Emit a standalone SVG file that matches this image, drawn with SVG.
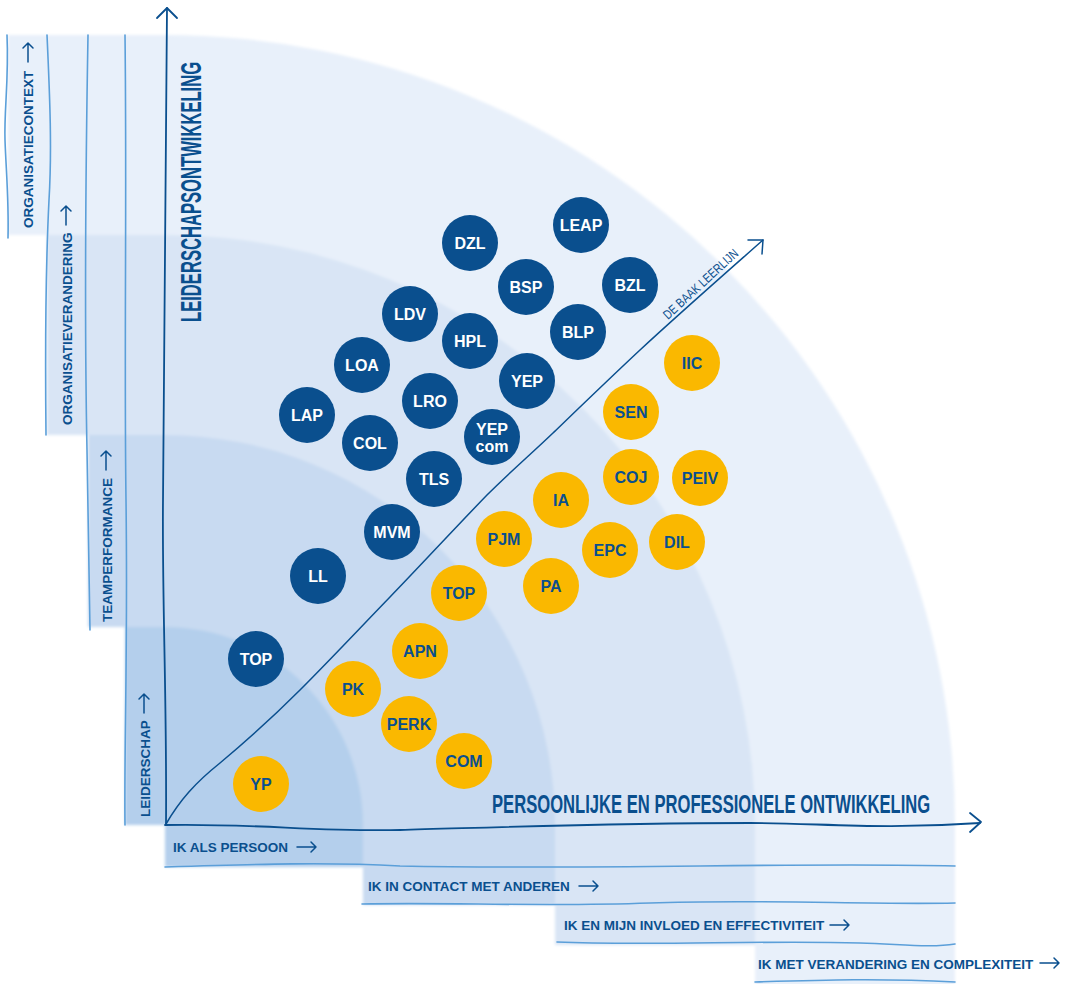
<svg xmlns="http://www.w3.org/2000/svg" width="1067" height="984" viewBox="0 0 1067 984">
<defs>
<style>
.r4{fill:#e8f0fa}.r3{fill:#d9e5f5}.r2{fill:#c8daf1}.r1{fill:#b4cfec}
.sl{fill:none;stroke:#5b9fd9;stroke-width:1.6;stroke-linecap:round}
.ax{fill:none;stroke:#0a4f8e;stroke-width:1.8;stroke-linecap:round;stroke-linejoin:round}
.dg{fill:none;stroke:#0a4f8e;stroke-width:1.5;stroke-linecap:round;stroke-linejoin:round}
.ar{fill:none;stroke:#0a4f8e;stroke-width:1.5;stroke-linecap:round;stroke-linejoin:round}
.st{font-family:"Liberation Sans",Arial,sans-serif;font-weight:bold;font-size:13.5px;fill:#0a4f8e}
.hw{font-family:"Liberation Sans",Arial,sans-serif;fill:#0a4f8e}
.nb{fill:#0a4f8e}.ng{fill:#fab800}
.tb{font-family:"Liberation Sans",Arial,sans-serif;font-weight:bold;font-size:16px;fill:#ffffff;text-anchor:middle}
.tg{font-family:"Liberation Sans",Arial,sans-serif;font-weight:bold;font-size:16px;fill:#0a4f8e;text-anchor:middle}
</style>
<filter id="soft" x="-5%" y="-5%" width="110%" height="110%"><feGaussianBlur stdDeviation="1.5"/></filter>
</defs>
<rect width="1067" height="984" fill="#ffffff"/>
<g id="rings" filter="url(#soft)">
<path class="r4" d="M8,35 H165 A790,790 0 0 1 955,825 V990 H755 V825 H165 V235 H8 Z"/>
<path class="r3" d="M47,235 H165 A590,590 0 0 1 755,825 V945 H555 V825 H165 V435 H47 Z"/>
<path class="r2" d="M88,435 H165 A390,390 0 0 1 555,825 V905 H363 V825 H165 V627 H88 Z"/>
<path class="r1" d="M125,627 H165 A198,198 0 0 1 363,825 V867 H165 V825 H125 Z"/>
</g>
<g id="strip-lines">
<path class="sl" d="M7,35 C9,80 4,110 5,140 C6,170 9,200 8,238"/>
<path class="sl" d="M47,35 C50,100 52,150 49,200 C46,260 45,340 46,435"/>
<path class="sl" d="M88,35 C86,150 84,300 87,450 C89,540 89,600 90,630"/>
<path class="sl" d="M125,35 C127,200 124,350 126,500 C128,650 124,750 125,825"/>
<path class="sl" d="M165,867 C260,864 330,862 400,866 C600,870 800,862 955,866"/>
<path class="sl" d="M362,904 C450,902 540,907 650,903 C760,899 870,905 955,903"/>
<path class="sl" d="M557,942 C650,946 760,940 860,943 C900,944 930,948 955,944"/>
<path class="sl" d="M755,982 C820,980 880,978 955,982"/>
</g>
<g id="strip-labels">
<text class="st" transform="translate(33,228) rotate(-90)">ORGANISATIECONTEXT</text>
<path class="ar" d="M28,62 V43 M23,48 L28,43 L33,48"/>
<text class="st" transform="translate(72,425) rotate(-90)">ORGANISATIEVERANDERING</text>
<path class="ar" d="M66,225 V206 M61,211 L66,206 L71,211"/>
<text class="st" transform="translate(112,622) rotate(-90)">TEAMPERFORMANCE</text>
<path class="ar" d="M106,470 V451 M101,456 L106,451 L111,456"/>
<text class="st" transform="translate(150,817) rotate(-90)">LEIDERSCHAP</text>
<path class="ar" d="M144,713 V694 M139,699 L144,694 L149,699"/>
<text class="st" x="173" y="852">IK ALS PERSOON</text>
<path class="ar" d="M297,847 H316 M311,842 L316,847 L311,852"/>
<text class="st" x="368" y="891">IK IN CONTACT MET ANDEREN</text>
<path class="ar" d="M579,886 H598 M593,881 L598,886 L593,891"/>
<text class="st" x="564" y="930">IK EN MIJN INVLOED EN EFFECTIVITEIT</text>
<path class="ar" d="M830,925 H849 M844,920 L849,925 L844,930"/>
<text class="st" x="758" y="969">IK MET VERANDERING EN COMPLEXITEIT</text>
<path class="ar" d="M1040,963 H1059 M1054,958 L1059,963 L1054,968"/>
</g>
<g id="connectors">
<path class="ax" d="M166,825 C167,700 162,600 163,500 C165,350 166,200 167,8"/>
<path class="ax" d="M157,18 L167,8 L177,18"/>
<path class="ax" d="M165,825 C250,823 320,832 400,830 C480,828 600,823 750,823 C820,823 880,830 980,823"/>
<path class="ax" d="M970,813 L981,822 L970,832"/>
<path class="dg" d="M166,824 C180,800 195,783 220,763 C250,738 275,715 300,690 C330,660 360,628 390,597 C420,566 455,528 487,495 C510,472 530,455 553,433 C580,407 610,378 640,350 C680,313 720,278 763,240"/>
<path class="dg" d="M748,240 L763,240 L762,254"/>
</g>
<g id="axis-labels">
<text class="hw" font-size="30" font-weight="bold" textLength="473" lengthAdjust="spacingAndGlyphs" transform="translate(201,322) rotate(-90) scale(0.55,1)">LEIDERSCHAPSONTWIKKELING</text>
<text class="hw" font-size="25" font-weight="bold" textLength="664" lengthAdjust="spacingAndGlyphs" transform="translate(492,813) scale(0.66,1)">PERSOONLIJKE EN PROFESSIONELE ONTWIKKELING</text>
<text class="hw" font-size="13" textLength="124" lengthAdjust="spacingAndGlyphs" transform="translate(668,320) rotate(-42.6) scale(0.78,1)">DE BAAK LEERLIJN</text>
</g>
<g id="node-DZL"><circle class="nb" cx="470" cy="243" r="28"/><text class="tb" x="470" y="249">DZL</text></g>
<g id="node-LEAP"><circle class="nb" cx="581" cy="225" r="28"/><text class="tb" x="581" y="231">LEAP</text></g>
<g id="node-BSP"><circle class="nb" cx="526" cy="287" r="28"/><text class="tb" x="526" y="293">BSP</text></g>
<g id="node-BZL"><circle class="nb" cx="630" cy="285" r="28"/><text class="tb" x="630" y="291">BZL</text></g>
<g id="node-LDV"><circle class="nb" cx="410" cy="314" r="28"/><text class="tb" x="410" y="320">LDV</text></g>
<g id="node-HPL"><circle class="nb" cx="470" cy="341" r="28"/><text class="tb" x="470" y="347">HPL</text></g>
<g id="node-BLP"><circle class="nb" cx="578" cy="332" r="28"/><text class="tb" x="578" y="338">BLP</text></g>
<g id="node-LOA"><circle class="nb" cx="362" cy="365" r="28"/><text class="tb" x="362" y="371">LOA</text></g>
<g id="node-YEP"><circle class="nb" cx="527" cy="381" r="28"/><text class="tb" x="527" y="387">YEP</text></g>
<g id="node-LRO"><circle class="nb" cx="430" cy="401" r="28"/><text class="tb" x="430" y="407">LRO</text></g>
<g id="node-LAP"><circle class="nb" cx="307" cy="415" r="28"/><text class="tb" x="307" y="421">LAP</text></g>
<g id="node-COL"><circle class="nb" cx="370" cy="443" r="28"/><text class="tb" x="370" y="449">COL</text></g>
<g id="node-YEPcom"><circle class="nb" cx="492" cy="437" r="28"/><text class="tb" x="492" y="435">YEP</text><text class="tb" x="492" y="452" font-size="15">com</text></g>
<g id="node-TLS"><circle class="nb" cx="434" cy="479" r="28"/><text class="tb" x="434" y="485">TLS</text></g>
<g id="node-MVM"><circle class="nb" cx="392" cy="532" r="28"/><text class="tb" x="392" y="538">MVM</text></g>
<g id="node-LL"><circle class="nb" cx="318" cy="576" r="28"/><text class="tb" x="318" y="582">LL</text></g>
<g id="node-TOP1"><circle class="nb" cx="256" cy="659" r="28"/><text class="tb" x="256" y="665">TOP</text></g>
<g id="node-IIC"><circle class="ng" cx="692" cy="363" r="28"/><text class="tg" x="692" y="369">IIC</text></g>
<g id="node-SEN"><circle class="ng" cx="631" cy="412" r="28"/><text class="tg" x="631" y="418">SEN</text></g>
<g id="node-COJ"><circle class="ng" cx="631" cy="477" r="28"/><text class="tg" x="631" y="483">COJ</text></g>
<g id="node-PEIV"><circle class="ng" cx="700" cy="478" r="28"/><text class="tg" x="700" y="484">PEIV</text></g>
<g id="node-IA"><circle class="ng" cx="561" cy="500" r="28"/><text class="tg" x="561" y="506">IA</text></g>
<g id="node-PJM"><circle class="ng" cx="504" cy="539" r="28"/><text class="tg" x="504" y="545">PJM</text></g>
<g id="node-EPC"><circle class="ng" cx="610" cy="550" r="28"/><text class="tg" x="610" y="556">EPC</text></g>
<g id="node-DIL"><circle class="ng" cx="677" cy="542" r="28"/><text class="tg" x="677" y="548">DIL</text></g>
<g id="node-PA"><circle class="ng" cx="551" cy="586" r="28"/><text class="tg" x="551" y="592">PA</text></g>
<g id="node-TOP2"><circle class="ng" cx="459" cy="593" r="28"/><text class="tg" x="459" y="599">TOP</text></g>
<g id="node-APN"><circle class="ng" cx="420" cy="651" r="28"/><text class="tg" x="420" y="657">APN</text></g>
<g id="node-PK"><circle class="ng" cx="353" cy="689" r="28"/><text class="tg" x="353" y="695">PK</text></g>
<g id="node-PERK"><circle class="ng" cx="409" cy="724" r="28"/><text class="tg" x="409" y="730">PERK</text></g>
<g id="node-COM"><circle class="ng" cx="464" cy="761" r="28"/><text class="tg" x="464" y="767">COM</text></g>
<g id="node-YP"><circle class="ng" cx="261" cy="784" r="28"/><text class="tg" x="261" y="790">YP</text></g>
</svg>
